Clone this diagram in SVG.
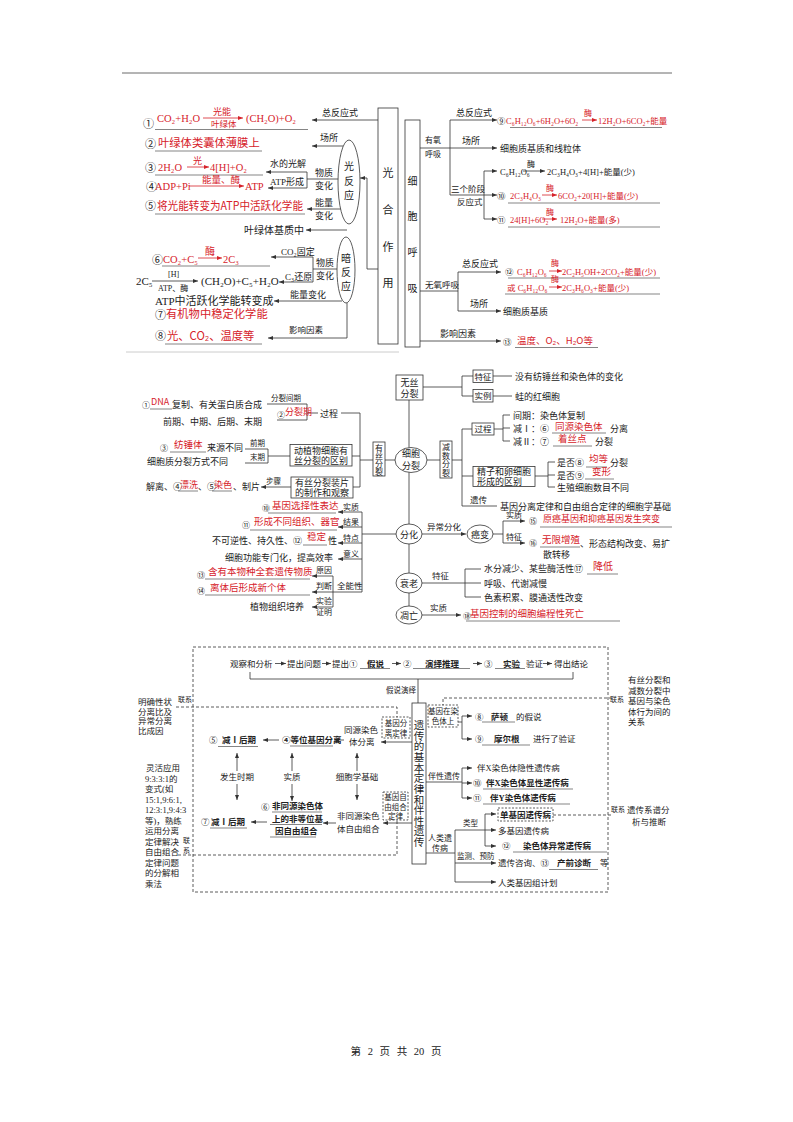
<svg xmlns="http://www.w3.org/2000/svg" width="793" height="1122" viewBox="0 0 793 1122">
<defs>
<marker id="a" viewBox="0 0 6 6" refX="6" refY="3" markerWidth="5" markerHeight="5" markerUnits="userSpaceOnUse" orient="auto"><path d="M0,0.6L6,3L0,5.4z" fill="#333"/></marker>
<marker id="ar" viewBox="0 0 6 6" refX="6" refY="3" markerWidth="5" markerHeight="5" markerUnits="userSpaceOnUse" orient="auto"><path d="M0,0.6L6,3L0,5.4z" fill="#d6222a"/></marker>
<style>
text{font-family:"Liberation Serif","Noto Sans CJK SC",serif;fill:#222;font-size:9px}
.r{font-family:"Noto Sans CJK SC","Liberation Sans",sans-serif;fill:#d6222a}
.rs{font-family:"Liberation Serif","Noto Sans CJK SC",serif;fill:#d6222a}
.b{font-weight:bold}
.m{text-anchor:middle}
.l{stroke:#333;stroke-width:0.8;fill:none}
.lr{stroke:#d6222a;stroke-width:0.8;fill:none;marker-end:url(#ar)}
.u{stroke:#333;stroke-width:0.6;fill:none}
.d{stroke:#333;stroke-width:0.8;fill:none;stroke-dasharray:3 2}
.bx{fill:#fff;stroke:#333;stroke-width:0.8}
.db{fill:#fff;stroke:#333;stroke-width:0.8;stroke-dasharray:2 1.5}
.ar{stroke:#333;stroke-width:0.8;fill:none;marker-end:url(#a)}
.s7{font-size:7.5px}.s8{font-size:8px}.s85{font-size:8.5px}.s10{font-size:10px}.s11{font-size:11px}.s113{font-size:11.3px}
</style>
</defs>
<rect width="793" height="1122" fill="#fff"/>
<g id="page">
<line x1="122" y1="73" x2="672" y2="73" stroke="#444" stroke-width="0.8"/>
<text class="m" style="font-size:10.5px;word-spacing:4px" x="396" y="1055">第 2 页 共 20 页</text>
</g>

<g id="connectors">
<path class="ar" d="M378,120H312"/><text x="322" y="116">总反应式</text>
<path class="ar" d="M378,269H367V178H360"/>
<path class="ar" d="M343,146H312"/><text x="320" y="141">场所</text>
<path class="ar" d="M307,172H266"/><text x="270" y="166.5">水的光解</text>
<path class="ar" d="M307,188H268"/><text x="270" y="185">ATP形成</text>
<path class="l" d="M307,172V188M307,179H339"/><text x="315" y="176">物质</text><text x="315" y="189">变化</text>
<path class="ar" d="M341,209H307"/><text x="315" y="206">能量</text><text x="315" y="219">变化</text>
<path class="ar" d="M347,230H306"/>
<path class="ar" d="M313,257H271"/><text x="281" y="254.5">CO₂固定</text>
<path class="ar" d="M313,282H279"/><text x="285" y="280">C₃还原</text>
<path class="l" d="M313,257V282M313,269H337"/><text x="316" y="266">物质</text><text x="316" y="278.5">变化</text>
<path class="ar" d="M342,301H274"/><text x="290" y="298">能量变化</text>
<path class="ar" d="M347,303V338H268"/><text class="s85" x="289" y="333">影响因素</text>
<path class="l" d="M420,148H450M450,120V195"/><text class="s8" x="425" y="143">有氧</text><text class="s8" x="425" y="157">呼吸</text>
<path class="ar" d="M450,120H497"/><text x="456" y="116">总反应式</text>
<path class="ar" d="M450,148H497"/><text x="462" y="144">场所</text>
<path class="l" d="M450,195H484M484,171V219"/><text class="s85" x="451" y="192">三个阶段</text><text class="s85" x="457" y="205">反应式</text>
<path class="ar" d="M484,171H497"/><path class="ar" d="M484,195H497"/><path class="ar" d="M484,219H497"/>
<path class="l" d="M420,291H458M458,272V311"/><text class="s85" x="425" y="288">无氧呼吸</text>
<path class="ar" d="M458,272H501"/><text x="462" y="267">总反应式</text>
<path class="ar" d="M458,311H501"/><text x="470" y="307">场所</text>
<path class="ar" d="M420,341H501"/><text x="440" y="337">影响因素</text>
<path class="l" d="M409,400V606"/>
<path class="l" d="M423,387H462M462,376V396M462,376H473M462,396H473M493,376H512M493,396H512"/>
<path class="l" d="M426,460H440M452,460H462M462,429V506M462,429H472M494,429H503M503,415V441M503,415H510M503,428H510M503,441H510"/>
<path class="l" d="M462,476H473M535,476H548M548,462V487M548,462H555M548,475H555M548,487H555"/>
<path class="l" d="M462,506H497"/><text class="s85" x="470" y="503">遗传</text>
<path class="ar" d="M422,534H466"/><text class="s85" x="427" y="530">异常分化</text>
<path class="l" d="M493,534H503M503,521V543"/><path class="ar" d="M503,521H525"/><path class="ar" d="M503,543H525"/>
<text class="s8" x="506" y="518">实质</text><text class="s8" x="506" y="540">特征</text>
<path class="l" d="M422,583H465M465,569V597M465,569H481M465,583H481M465,597H481"/><text class="s85" x="432" y="579">特征</text>
<path class="ar" d="M422,615H461"/><text class="s85" x="430" y="611">实质</text>
<path class="l" d="M396,534H362M362,512V592"/>
<path class="ar" d="M362,512H338"/><path class="ar" d="M362,527H338"/><path class="ar" d="M362,543H338"/><path class="ar" d="M362,559H338"/>
<text class="s8" x="343" y="510">实质</text><text class="s8" x="343" y="525">结果</text><text class="s8" x="343" y="541">特点</text><text class="s8" x="343" y="557">意义</text>
<path class="l" d="M362,592H333M333,576V607"/>
<path class="ar" d="M333,576H312"/><path class="ar" d="M333,592H312"/><path class="ar" d="M333,607H312"/>
<text class="s85" x="337" y="589">全能性</text>
<text class="s8" x="316" y="573">原因</text><text class="s8" x="316" y="589">判断</text><text class="s8" x="316" y="604">实验</text><text class="s8" x="316" y="615">证明</text>
<path class="l" d="M395,460H385M373,460H360M360,413V487"/>
<path class="l" d="M360,413H341M318,413H307M307,404V420M267,404H307M277,420H307"/><text x="320" y="416.5">过程</text>
<text class="s7" x="271" y="401">分裂间期</text>
<path class="l" d="M360,456H352M290,456H268M268,449V463M245,449H268M245,463H268"/>
<text class="s7" x="250" y="446">前期</text><text class="s7" x="250" y="460">末期</text>
<path class="l" d="M360,487H353"/>
<path class="ar" d="M291,487H261"/><text class="s7" x="266" y="484">步骤</text>
<path class="l" d="M250,672V679H573V672M418,679V703"/><text class="s7" x="386" y="693">假说演绎</text>
<path class="ar" d="M275,663.5H286"/><path class="ar" d="M322,663.5H331"/><path class="ar" d="M392,663.5H401"/><path class="ar" d="M473,663.5H482"/><path class="ar" d="M543,663.5H552"/>
<path class="ar" d="M412,742H381"/>
<path class="ar" d="M344,740H334"/>
<path class="ar" d="M279,740H263"/>
<path class="ar" d="M237,771V753"/><path class="ar" d="M292,771V753"/><path class="ar" d="M357,771V753"/>
<path class="ar" d="M237,784V800"/><path class="ar" d="M292,784V801"/><path class="ar" d="M357,784V800"/>
<path class="ar" d="M412,823H383"/>
<path class="ar" d="M336,823H323"/>
<path class="ar" d="M267,822H251"/>
<path class="d" d="M176,707H397V717"/><text style="font-size:7px" x="178" y="702">联系</text>
<path class="d" d="M178,855H397V820"/><text style="font-size:7px" x="183" y="843">联</text><text style="font-size:7px" x="183" y="853">系</text>
<path class="d" d="M612,698H443V705"/><text style="font-size:7px" x="610" y="702">联系</text>
<path class="d" d="M553,815H612"/><text style="font-size:7px" x="611" y="812">联系</text>
<path class="l" d="M458,722H462M462,716V739"/><path class="ar" d="M462,716H472"/><path class="ar" d="M462,739H472"/>
<path class="l" d="M426,782H462M462,768V798"/><path class="ar" d="M462,768H472"/><path class="ar" d="M462,783H472"/><path class="ar" d="M462,798H472"/>
<text class="s8" x="428" y="779">伴性遗传</text>
<path class="l" d="M426,853H455M455,830V882M455,830H485M485,814V846"/>
<path class="ar" d="M485,814H496"/><path class="ar" d="M485,830H496"/><path class="ar" d="M485,846H496"/>
<text class="s7" x="463" y="826">类型</text>
<path class="ar" d="M455,863H496"/><text class="s7" x="457" y="859">监测、预防</text>
<path class="ar" d="M455,882H496"/>
</g>

<g id="photosynthesis">
<rect class="bx" x="378" y="108" width="20" height="236"/>
<text class="m s11" x="388" y="177">光</text><text class="m s11" x="388" y="214">合</text><text class="m s11" x="388" y="251">作</text><text class="m s11" x="388" y="287">用</text>
</g>
<g id="light-reaction">
<ellipse class="bx" cx="349" cy="182" rx="11" ry="42"/>
<text class="m s10" x="349" y="170">光</text><text class="m s10" x="349" y="185">反</text><text class="m s10" x="349" y="199">应</text>
</g>
<g id="dark-reaction">
<ellipse class="bx" cx="346" cy="270" rx="9" ry="33"/>
<text class="m s10" x="346" y="262">暗</text><text class="m s10" x="346" y="276">反</text><text class="m s10" x="346" y="290">应</text>
</g>
<g id="ps-1">
<text class="s11" x="143" y="128">①</text>
<text class="rs" style="font-size:10.5px" x="157" y="122">CO₂+H₂O</text>
<path class="lr" d="M203,118H243"/>
<text class="r" x="213" y="115">光能</text>
<text class="r" style="font-size:8.5px" x="211" y="126.5">叶绿体</text>
<text class="rs" style="font-size:10.5px" x="246" y="122">(CH₂O)+O₂</text>
<line class="u" x1="155" y1="129.5" x2="308" y2="129.5"/>
</g>
<g id="ps-2">
<text class="s11" x="145" y="148">②</text>
<text class="r s113" x="158" y="147">叶绿体类囊体薄膜上</text>
<line class="u" x1="155" y1="151" x2="262" y2="151"/>
</g>
<g id="ps-3">
<text class="s11" x="145" y="172">③</text>
<text class="rs" style="font-size:10.5px" x="158" y="171">2H₂O</text>
<path class="lr" d="M187,167H209"/>
<text class="r" x="193" y="164">光</text>
<text class="rs" style="font-size:10.5px" x="210" y="171">4[H]+O₂</text>
<line class="u" x1="155" y1="175" x2="263" y2="175"/>
</g>
<g id="ps-4">
<text class="s11" x="146" y="191">④</text>
<text class="rs" style="font-size:10.5px" x="155" y="190">ADP+Pi</text>
<path class="lr" d="M189,186H244"/>
<text class="r" style="font-size:9.5px" x="202" y="183">能量、酶</text>
<text class="rs" style="font-size:10.5px" x="245" y="190">ATP</text>
</g>
<g id="ps-5">
<text class="s11" x="145" y="210">⑤</text>
<text class="r" style="font-size:11.5px" x="157" y="210" textLength="146" lengthAdjust="spacingAndGlyphs">将光能转变为ATP中活跃化学能</text>
<line class="u" x1="155" y1="214" x2="305" y2="214"/>
</g>
<g id="ps-stroma">
<text class="s10" x="244" y="234">叶绿体基质中</text>
</g>
<g id="ps-6">
<text class="s11" x="152" y="264">⑥</text>
<text class="rs" style="font-size:10.5px" x="163" y="263">CO₂+C₅</text>
<path class="lr" d="M198,258H222"/>
<text class="r s10" x="205" y="255">酶</text>
<text class="rs" style="font-size:10.5px" x="223" y="263">2C₃</text>
<line class="u" x1="162" y1="266" x2="270" y2="266"/>
</g>
<g id="ps-c3">
<text class="s11" x="136" y="285">2C₅</text>
<path class="ar" d="M152,281H198"/>
<text class="s8" x="168" y="277">[H]</text>
<text class="s8" x="158" y="291">ATP、酶</text>
<text class="s11" x="201" y="285">(CH₂O)+C₅+H₂O</text>
</g>
<g id="ps-energy">
<text class="s11" x="155" y="305">ATP中活跃化学能转变成</text>
<text class="s11" x="155" y="318.5">⑦</text>
<text class="r s113" x="166" y="318">有机物中稳定化学能</text>
</g>
<g id="ps-8">
<text class="s11" x="155" y="340">⑧</text>
<text class="r s113" x="167" y="339.5">光、CO₂、温度等</text>
<line class="u" x1="165" y1="344" x2="262" y2="344"/>
</g>
<line x1="126" y1="352" x2="399" y2="352" stroke="#ccc" stroke-width="1"/>

<g id="respiration">
<rect class="bx" x="405" y="120" width="15" height="227"/>
<text class="m s10" x="412.5" y="185">细</text><text class="m s10" x="412.5" y="220">胞</text><text class="m s10" x="412.5" y="256">呼</text><text class="m s10" x="412.5" y="292">吸</text>
</g>
<g id="resp-9">
<text class="s85" x="497" y="124">⑨</text>
<text class="rs s85" x="506" y="124">C₆H₁₂O₆+6H₂O+6O₂</text>
<path class="lr" d="M582,120H597"/><text class="r s8" x="584" y="116">酶</text>
<text class="rs s85" x="598" y="124">12H₂O+6CO₂+能量</text>
<line class="u" x1="510" y1="127.5" x2="662" y2="127.5"/>
</g>
<g id="resp-site"><text x="500" y="152">细胞质基质和线粒体</text></g>
<g id="resp-s1">
<text class="s85" x="500" y="175">C₆H₁₂O₆</text>
<path class="ar" d="M523,171H545"/><text class="s8" x="527" y="167">酶</text>
<text class="s85" x="547" y="175">2C₃H₄O₃+4[H]+能量(少)</text>
</g>
<g id="resp-10">
<text class="s85" x="497" y="199">⑩</text>
<text class="rs s85" x="510" y="199">2C₃H₄O₃</text>
<path class="lr" d="M542,195H557"/><text class="r s8" x="546" y="191">酶</text>
<text class="rs s85" x="558" y="199">6CO₂+20[H]+能量(少)</text>
<line class="u" x1="508" y1="203" x2="660" y2="203"/>
</g>
<g id="resp-11">
<text class="s85" x="497" y="223">⑪</text>
<text class="rs s85" x="510" y="223">24[H]+6O₂</text>
<path class="lr" d="M542,219H557"/><text class="r s8" x="546" y="215">酶</text>
<text class="rs s85" x="560" y="223">12H₂O+能量(多)</text>
<line class="u" x1="508" y1="227" x2="660" y2="227"/>
</g>
<g id="resp-12">
<text class="s85" x="505" y="275">⑫</text>
<text class="rs s85" x="517" y="275">C₆H₁₂O₆</text>
<path class="lr" d="M549,271H562"/><text class="r s8" x="551" y="266">酶</text>
<text class="rs s85" x="562" y="275">2C₂H₅OH+2CO₂+能量(少)</text>
<line class="u" x1="508" y1="278" x2="660" y2="278"/>
<text class="rs s85" x="507" y="291">或 C₆H₁₂O₆</text>
<path class="lr" d="M549,287H562"/><text class="r s8" x="551" y="282">酶</text>
<text class="rs s85" x="562" y="291">2C₃H₆O₃+能量(少)</text>
<line class="u" x1="505" y1="294" x2="660" y2="294"/>
</g>
<g id="resp-site2"><text x="503" y="315">细胞质基质</text></g>
<g id="resp-13">
<text class="s85" x="503" y="345">⑬</text>
<text class="r" style="font-size:9.5px" x="517" y="344">温度、O₂、H₂O等</text>
<line class="u" x1="515" y1="347.5" x2="598" y2="347.5"/>
</g>

<g id="cell-division">
<ellipse class="bx" cx="411" cy="460" rx="16" ry="12.5"/>
<text class="m" x="411" y="457">细胞</text><text class="m" x="411" y="469">分裂</text>
</g>
<g id="amitosis">
<rect class="bx" x="396" y="375" width="27" height="25"/>
<text class="m" x="409.5" y="385.5">无丝</text><text class="m" x="409.5" y="397">分裂</text>
</g>
<g id="amitosis-feature">
<rect class="bx" x="473" y="370" width="20" height="12.5"/><text class="m s85" x="483" y="379.5">特征</text>
<text x="515" y="380">没有纺锤丝和染色体的变化</text>
</g>
<g id="amitosis-example">
<rect class="bx" x="473" y="389.5" width="20" height="12.5"/><text class="m s85" x="483" y="399">实例</text>
<text x="515" y="399.5">蛙的红细胞</text>
</g>
<g id="meiosis">
<rect class="bx" x="440" y="441" width="12" height="37"/>
<text class="m s8" x="446" y="450">减</text><text class="m s8" x="446" y="458.5">数</text><text class="m s8" x="446" y="467">分</text><text class="m s8" x="446" y="475.5">裂</text>
</g>
<g id="meiosis-process">
<rect class="bx" x="472" y="423" width="22" height="12"/><text class="m s85" x="483" y="432.3">过程</text>
<text x="513" y="418.5">间期：染色体复制</text>
<text x="513" y="431.5">减Ⅰ：⑥</text><text class="r" style="font-size:9.5px" x="555" y="429.5">同源染色体</text>
<line class="u" x1="552" y1="433" x2="606" y2="433"/><text x="610" y="432">分离</text>
<text x="513" y="444.5">减Ⅱ：⑦</text><text class="r" style="font-size:9.5px" x="558" y="442">着丝点</text>
<line class="u" x1="553" y1="446" x2="592" y2="446"/><text x="595" y="445">分裂</text>
</g>
<g id="meiosis-diff">
<rect class="bx" x="473" y="466.5" width="62" height="20"/>
<text x="477" y="475">精子和卵细胞</text><text x="477" y="484.5">形成的区别</text>
<text x="557" y="465.5">是否⑧</text><text class="r" style="font-size:9.5px" x="589" y="462">均等</text>
<line class="u" x1="586" y1="467" x2="607" y2="467"/><text x="610" y="465.5">分裂</text>
<text x="557" y="478.5">是否⑨</text><text class="r" style="font-size:9.5px" x="592" y="474.5">变形</text>
<line class="u" x1="585" y1="479" x2="614" y2="479"/>
<text x="557" y="491">生殖细胞数目不同</text>
</g>
<g id="meiosis-genetics"><text x="500" y="509.5">基因分离定律和自由组合定律的细胞学基础</text></g>

<g id="differentiation">
<ellipse class="bx" cx="409" cy="534" rx="13" ry="10"/><text class="m" x="409" y="537.5">分化</text>
</g>
<g id="cancer">
<ellipse class="bx" cx="480" cy="534" rx="13" ry="9"/><text class="m" x="480" y="537.5">癌变</text>
</g>
<g id="cancer-15">
<text class="s8" x="529" y="524">⑮</text>
<text class="r" x="543" y="522">原癌基因和抑癌基因发生突变</text>
<line class="u" x1="540" y1="527" x2="672" y2="527"/>
</g>
<g id="cancer-16">
<text class="s8" x="529" y="546">⑯</text>
<text class="r" style="font-size:9.5px" x="542" y="543">无限增殖</text>
<line class="u" x1="540" y1="547" x2="580" y2="547"/>
<text x="580" y="546.5">、形态结构改变、易扩</text>
<text x="543" y="557.5">散转移</text>
</g>
<g id="aging">
<ellipse class="bx" cx="409" cy="583" rx="13" ry="10"/><text class="m" x="409" y="586.5">衰老</text>
</g>
<g id="aging-features">
<text x="484" y="572">水分减少、某些酶活性⑰</text>
<text class="r s10" x="593" y="569.5">降低</text>
<line class="u" x1="587" y1="574" x2="618" y2="574"/>
<text x="484" y="586.5">呼吸、代谢减慢</text>
<text x="484" y="600.5">色素积累、膜通透性改变</text>
</g>
<g id="apoptosis">
<ellipse class="bx" cx="409" cy="615" rx="13" ry="9"/><text class="m" x="409" y="618.5">凋亡</text>
</g>
<g id="apoptosis-18">
<text class="s8" x="463" y="619">⑱</text>
<text class="r" style="font-size:9.5px" x="470" y="617">基因控制的细胞编程性死亡</text>
<line class="u" x1="466" y1="621" x2="620" y2="621"/>
</g>
<g id="diff-10">
<text class="s8" x="262" y="511">⑩</text>
<text class="r" style="font-size:9.5px" x="272" y="508.5">基因选择性表达</text>
<line class="u" x1="268" y1="513" x2="336" y2="513"/>
</g>
<g id="diff-11">
<text class="s8" x="242" y="528">⑪</text>
<text class="r" style="font-size:9.5px" x="254" y="525">形成不同组织、器官</text>
<line class="u" x1="250" y1="530" x2="337" y2="530"/>
</g>
<g id="diff-12">
<text x="212" y="544">不可逆性、持久性、⑫</text>
<text class="r" style="font-size:9.5px" x="307" y="540">稳定</text>
<line class="u" x1="303" y1="545" x2="327" y2="545"/>
<text x="328" y="544">性</text>
</g>
<g id="diff-meaning"><text x="225" y="561">细胞功能专门化，提高效率</text></g>
<g id="totipotency-13">
<text class="s8" x="197" y="578">⑬</text>
<text class="r" style="font-size:9.5px" x="208" y="574.5">含有本物种全套遗传物质</text>
<line class="u" x1="205" y1="579" x2="310" y2="579"/>
</g>
<g id="totipotency-14">
<text class="s8" x="197" y="594">⑭</text>
<text class="r" style="font-size:9.5px" x="210" y="590.5">离体后形成新个体</text>
<line class="u" x1="205" y1="595" x2="310" y2="595"/>
</g>
<g id="totipotency-exp"><text x="250" y="610">植物组织培养</text></g>

<g id="mitosis">
<rect class="bx" x="373" y="442" width="12" height="34"/>
<text class="m s8" x="379" y="450.5">有</text><text class="m s8" x="379" y="458.5">丝</text><text class="m s8" x="379" y="466.5">分</text><text class="m s8" x="379" y="474.5">裂</text>
</g>
<g id="mitosis-1">
<text class="s8" x="142" y="408">①</text>
<text class="r" style="font-size:9px" x="151" y="404.5">DNA</text>
<line class="u" x1="150" y1="409" x2="172" y2="409"/>
<text x="172" y="408">复制、有关蛋白质合成</text>
<text x="163" y="424.5">前期、中期、后期、末期</text>
</g>
<g id="mitosis-2">
<text class="s8" x="277" y="418">②</text>
<text class="r" x="285" y="415">分裂期</text>
</g>
<g id="mitosis-diff">
<rect class="bx" x="290" y="444.5" width="62" height="21.5"/>
<text x="294" y="454">动植物细胞有</text><text x="294" y="464">丝分裂的区别</text>
</g>
<g id="mitosis-3">
<text class="s8" x="160" y="451">③</text>
<text class="r" style="font-size:9.5px" x="174" y="448">纺锤体</text>
<line class="u" x1="170" y1="452" x2="206" y2="452"/>
<text x="207" y="451">来源不同</text>
<text x="147" y="465">细胞质分裂方式不同</text>
</g>
<g id="mitosis-slide">
<rect class="bx" x="291" y="477" width="62" height="21"/>
<text x="295" y="486">有丝分裂装片</text><text x="295" y="496">的制作和观察</text>
</g>
<g id="mitosis-steps">
<text x="146" y="490">解离、④</text>
<text class="r" x="180" y="487.5">漂洗</text><line class="u" x1="178" y1="491" x2="198" y2="491"/>
<text x="198" y="490">、⑤</text>
<text class="r" x="214" y="487.5">染色</text><line class="u" x1="212" y1="491" x2="232" y2="491"/>
<text x="233" y="490">、制片</text>
</g>

<rect class="d" x="193" y="647" width="415" height="245"/>
<g id="method-row">
<text class="s85" x="230" y="666.5">观察和分析</text>
<text class="s85" x="287" y="666.5">提出问题</text>
<text class="s85" x="332" y="666.5">提出①</text>
<text class="s85 b" x="367" y="666.5">假说</text><line class="u" x1="360" y1="668.5" x2="390" y2="668.5"/>
<text class="s85" x="403" y="666.5">②</text>
<text class="s85 b" x="425" y="666.5">演绎推理</text><line class="u" x1="413" y1="668.5" x2="470" y2="668.5"/>
<text class="s85" x="484" y="666.5">③</text>
<text class="s85 b" x="503" y="666.5">实验</text><line class="u" x1="495" y1="668.5" x2="525" y2="668.5"/>
<text class="s85" x="526" y="666.5">验证</text>
<text class="s85" x="554" y="666.5">得出结论</text>
</g>
<g id="genetics">
<rect class="bx" x="412" y="703" width="14" height="161"/>
<text class="m" style="font-size:10.5px" x="419" y="729">遗</text><text class="m" style="font-size:10.5px" x="419" y="739.7">传</text><text class="m" style="font-size:10.5px" x="419" y="750.3">的</text><text class="m" style="font-size:10.5px" x="419" y="761">基</text><text class="m" style="font-size:10.5px" x="419" y="771.6">本</text><text class="m" style="font-size:10.5px" x="419" y="782.2">定</text><text class="m" style="font-size:10.5px" x="419" y="792.9">律</text><text class="m" style="font-size:10.5px" x="419" y="803.5">和</text><text class="m" style="font-size:10.5px" x="419" y="814.1">伴</text><text class="m" style="font-size:10.5px" x="419" y="824.8">性</text><text class="m" style="font-size:10.5px" x="419" y="835.4">遗</text><text class="m" style="font-size:10.5px" x="419" y="846">传</text>
</g>
<g id="segregation-law">
<rect class="db" x="382" y="717" width="28" height="21"/>
<text class="m s7" x="396" y="726">基因分</text><text class="m s7" x="396" y="735.5">离定律</text>
</g>
<g id="homolog-separation">
<text class="s85" x="344" y="733">同源染色</text><text class="s85" x="349" y="745">体分离</text>
</g>
<g id="allele-separation">
<text class="s85 b" x="282" y="743">④等位基因分离</text>
<line class="u" x1="290" y1="746" x2="333" y2="746"/>
</g>
<g id="seg-timing">
<text class="s85" x="209" y="743">⑤</text>
<text class="s85 b" x="222" y="743">减Ⅰ后期</text>
<line class="u" x1="218" y1="746.5" x2="258" y2="746.5"/>
</g>
<g id="labels-mid">
<text class="m s85" x="237" y="780">发生时期</text>
<text class="m s85" x="292" y="780">实质</text>
<text class="m s85" x="357" y="780">细胞学基础</text>
</g>
<g id="assortment-law">
<rect class="db" x="383" y="792" width="25" height="28"/>
<text class="m s7" x="395.5" y="800">基因自</text><text class="m s7" x="395.5" y="809.5">由组合</text><text class="m s7" x="395.5" y="818.5">定律</text>
</g>
<g id="nonhomolog">
<text class="s85" x="337" y="819">非同源染色</text><text class="s85" x="337" y="831.5">体自由组合</text>
</g>
<g id="nonallelic">
<text class="s85" x="261" y="810">⑥</text>
<text class="s85 b" x="272" y="809">非同源染色体</text><line class="u" x1="272" y1="812" x2="322" y2="812"/>
<text class="s85 b" x="272" y="821.5">上的非等位基</text><line class="u" x1="270" y1="824.5" x2="322" y2="824.5"/>
<text class="s85 b" x="275" y="834">因自由组合</text><line class="u" x1="270" y1="837" x2="316" y2="837"/>
</g>
<g id="assort-timing">
<text class="s85" x="201" y="825">⑦</text>
<text class="s85 b" x="211" y="825">减Ⅰ后期</text>
<line class="u" x1="210" y1="828" x2="247" y2="828"/>
</g>
<g id="note-ratio">
<text class="s85" x="138" y="705">明确性状</text><text class="s85" x="138" y="714.5">分离比及</text><text class="s85" x="138" y="724">异常分离</text><text class="s85" x="138" y="733.5">比成因</text>
</g>
<g id="note-apply">
<text class="s85" x="146" y="771">灵活应用</text>
<text class="s85" x="145" y="781.5">9:3:3:1的</text>
<text class="s85" x="145" y="792">变式(如</text>
<text class="s85" x="145" y="802.5">15:1,9:6:1,</text>
<text class="s85" x="145" y="813">12:3:1,9:4:3</text>
<text class="s85" x="145" y="823.5">等)，熟练</text>
<text class="s85" x="145" y="834">运用分离</text>
<text class="s85" x="145" y="844.5">定律解决</text>
<text class="s85" x="145" y="855">自由组合</text>
<text class="s85" x="145" y="865.5">定律问题</text>
<text class="s85" x="145" y="876">的分解相</text>
<text class="s85" x="145" y="886.5">乘法</text>
</g>
<g id="note-behavior">
<text class="s85" x="628" y="683">有丝分裂和</text><text class="s85" x="628" y="693.5">减数分裂中</text><text class="s85" x="628" y="704">基因与染色</text><text class="s85" x="628" y="714.5">体行为间的</text><text class="s85" x="628" y="725">关系</text>
</g>
<g id="gene-on-chromosome">
<rect class="db" x="428" y="705" width="30" height="22"/>
<text class="m s7" x="443" y="714">基因在染</text><text class="m s7" x="443" y="724">色体上</text>
</g>
<g id="sutton">
<text class="s85" x="475" y="720">⑧</text>
<text class="s85 b" x="491" y="719.5">萨顿</text><line class="u" x1="482" y1="722" x2="515" y2="722"/>
<text class="s85" x="516" y="720">的假说</text>
</g>
<g id="morgan">
<text class="s85" x="475" y="742">⑨</text>
<text class="s85 b" x="494" y="741.5">摩尔根</text><line class="u" x1="482" y1="745" x2="530" y2="745"/>
<text class="s85" x="533" y="742">进行了验证</text>
</g>
<g id="sex-linked">
<text class="s85" x="477" y="771">伴X染色体隐性遗传病</text>
<text class="s85" x="473" y="786">⑩</text>
<text class="s85 b" x="486" y="785.5">伴X染色体显性遗传病</text><line class="u" x1="483" y1="789" x2="573" y2="789"/>
<text class="s85" x="473" y="801">⑪</text>
<text class="s85 b" x="490" y="800.5">伴Y染色体遗传病</text><line class="u" x1="483" y1="804" x2="570" y2="804"/>
</g>
<g id="human-disease">
<text class="s8" x="428" y="841">人类遗</text><text class="s8" x="432" y="851">传病</text>
</g>
<g id="single-gene">
<rect class="db" x="498" y="808" width="55" height="13"/>
<text class="m s85 b" x="525.5" y="817.5">单基因遗传病</text>
</g>
<g id="note-pedigree">
<text class="s85" x="627" y="813">遗传系谱分</text><text class="s85" x="632" y="825">析与推断</text>
</g>
<g id="multi-gene"><text class="s85" x="498" y="833.5">多基因遗传病</text></g>
<g id="chromosomal">
<text class="s85" x="502" y="849">⑫</text>
<text class="s85 b" x="523" y="848.5">染色体异常遗传病</text><line class="u" x1="513" y1="852" x2="607" y2="852"/>
</g>
<g id="prevention">
<text class="s85" x="498" y="866">遗传咨询、⑬</text>
<text class="s85 b" x="557" y="865.5">产前诊断</text><line class="u" x1="549" y1="869.5" x2="598" y2="869.5"/>
<text class="s85" x="600" y="866">等</text>
</g>
<g id="genome-project"><text class="s85" x="498" y="885.5">人类基因组计划</text></g>
</svg>
